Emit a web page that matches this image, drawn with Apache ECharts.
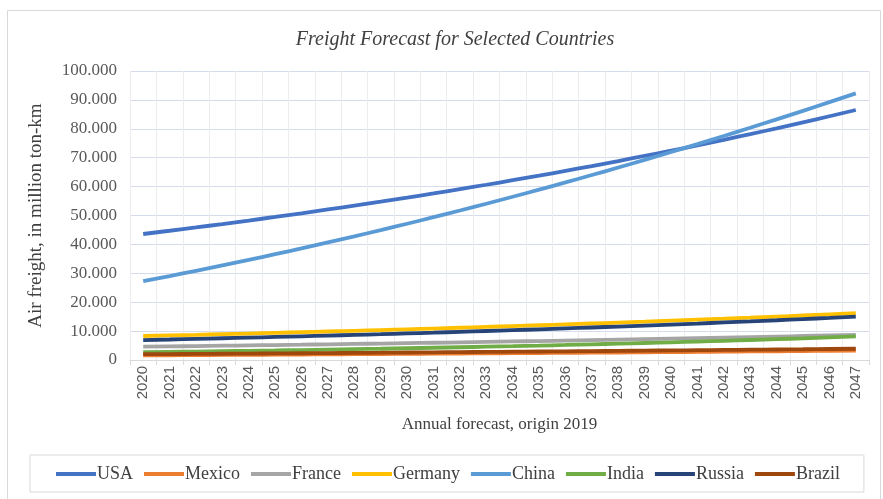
<!DOCTYPE html>
<html>
<head>
<meta charset="utf-8">
<script src="https://cdn.jsdelivr.net/npm/echarts@6/dist/echarts.min.js"></script>
<style>
html,body{margin:0;padding:0;background:#fff;}
#c{width:883px;height:499px;}
</style>
</head>
<body>
<div id="c"></div>
<script>
var years = ['2020','2021','2022','2023','2024','2025','2026','2027','2028','2029','2030','2031','2032','2033','2034','2035','2036','2037','2038','2039','2040','2041','2042','2043','2044','2045','2046','2047'];
var usa = [43600,44720,45870,47050,48260,49500,50770,52080,53420,54790,56200,57640,59120,60640,62200,63800,65440,67120,68850,70620,72430,74290,76200,78160,80170,82230,84340,86510];
var mexico = [1600,1650,1700,1750,1800,1850,1900,1950,2000,2060,2120,2180,2240,2300,2360,2420,2480,2540,2600,2670,2740,2810,2880,2950,3030,3110,3190,3270];
var france = [4600,4710,4820,4940,5060,5180,5300,5430,5560,5690,5830,5970,6110,6260,6410,6560,6720,6880,7040,7210,7380,7560,7740,7920,8110,8310,8510,8710];
var germany = [8300,8510,8720,8940,9160,9390,9630,9870,10110,10370,10630,10890,11160,11440,11730,12020,12320,12630,12950,13270,13600,13940,14290,14650,15020,15390,15780,16170];
var china = [27300,29060,30870,32730,34640,36610,38610,40680,42780,44940,47150,49410,51720,54070,56480,58940,61440,64000,66600,69250,71960,74710,77510,80370,83270,86220,89220,92270];
var india = [2700,2810,2930,3050,3180,3310,3450,3600,3750,3900,4070,4240,4410,4600,4790,4990,5200,5420,5640,5880,6120,6380,6650,6920,7210,7510,7830,8150];
var russia = [6900,7100,7310,7520,7740,7970,8200,8440,8690,8940,9200,9470,9750,10030,10320,10620,10930,11250,11580,11920,12270,12620,12990,13370,13760,14160,14570,15000];
var brazil = [2000,2050,2100,2160,2220,2280,2340,2400,2460,2520,2590,2660,2730,2800,2870,2940,3010,3080,3160,3240,3320,3400,3480,3560,3640,3720,3810,3900];
var seriesNames = ['USA','Mexico','France','Germany','China','India','Russia','Brazil'];
var seriesData = [usa, mexico, france, germany, china, india, russia, brazil];
var colors = ['#4472C4','#ED7D31','#A5A5A5','#FFC000','#5B9BD5','#70AD47','#264478','#9E480E'];
var yTicks = [0,10000,20000,30000,40000,50000,60000,70000,80000,90000,100000];

var chart = echarts.init(document.getElementById('c'));
var serif = '"Liberation Serif","DejaVu Serif",serif';
chart.setOption({
  animation: false,
  color: colors,
  graphic: [{
    type: 'rect', left: 5, top: 8, shape: {width: 873, height: 500},
    style: {fill: 'none', stroke: '#d9d9d9', lineWidth: 1}, silent: true, z: -1
  }],
  title: {
    text: 'Freight Forecast for Selected Countries',
    left: 450, top: 25, textAlign: 'center',
    textStyle: {fontFamily: serif, fontStyle: 'italic', fontWeight: 'normal', fontSize: 20, color: '#404040'}
  },
  grid: {left: 130, right: 14, top: 71, bottom: 139, containLabel: false},
  legend: {
    data: seriesNames,
    bottom: 7, left: 30,
    icon: 'rect', itemWidth: 40, itemHeight: 4, itemGap: 11,
    borderColor: '#d9d9d9', borderWidth: 1, padding: [10, 24, 9, 26],
    textStyle: {fontFamily: serif, fontSize: 18, color: '#404040', padding: [0,0,0,-4]}
  },
  xAxis: {
    type: 'category', data: years, boundaryGap: true,
    name: 'Annual forecast, origin 2019', nameLocation: 'middle', nameGap: 56,
    nameTextStyle: {fontFamily: serif, fontSize: 17, color: '#404040'},
    axisLine: {lineStyle: {color: '#d9d9d9'}},
    axisTick: {show: true, length: 5, lineStyle: {color: '#d9d9d9'}},
    axisLabel: {rotate: 90, interval: 0, fontFamily: '"Liberation Sans","DejaVu Sans",sans-serif', fontSize: 15, color: '#595959', margin: 6},
    splitLine: {show: true, lineStyle: {color: '#ececec', width: 1}}
  },
  yAxis: {
    type: 'value', min: 0, max: 100000, interval: 10000,
    name: 'Air freight, in million ton-km', nameLocation: 'middle', nameGap: 84,
    nameTextStyle: {fontFamily: serif, fontSize: 19, color: '#404040'},
    axisLine: {show: false}, axisTick: {show: false},
    axisLabel: {
      fontFamily: serif, fontSize: 17, color: '#595959', margin: 13,
      formatter: function (v) { return v === 0 ? '0' : (v / 1000).toFixed(3); }
    },
    splitLine: {lineStyle: {color: '#d6dceb', width: 1}}
  },
  series: seriesNames.map(function (n, i) {
    return {
      name: n, type: 'line', data: seriesData[i], smooth: true,
      showSymbol: false, symbol: 'none',
      lineStyle: {width: 3.8, color: colors[i]}
    };
  })
});
</script>
</body>
</html>
